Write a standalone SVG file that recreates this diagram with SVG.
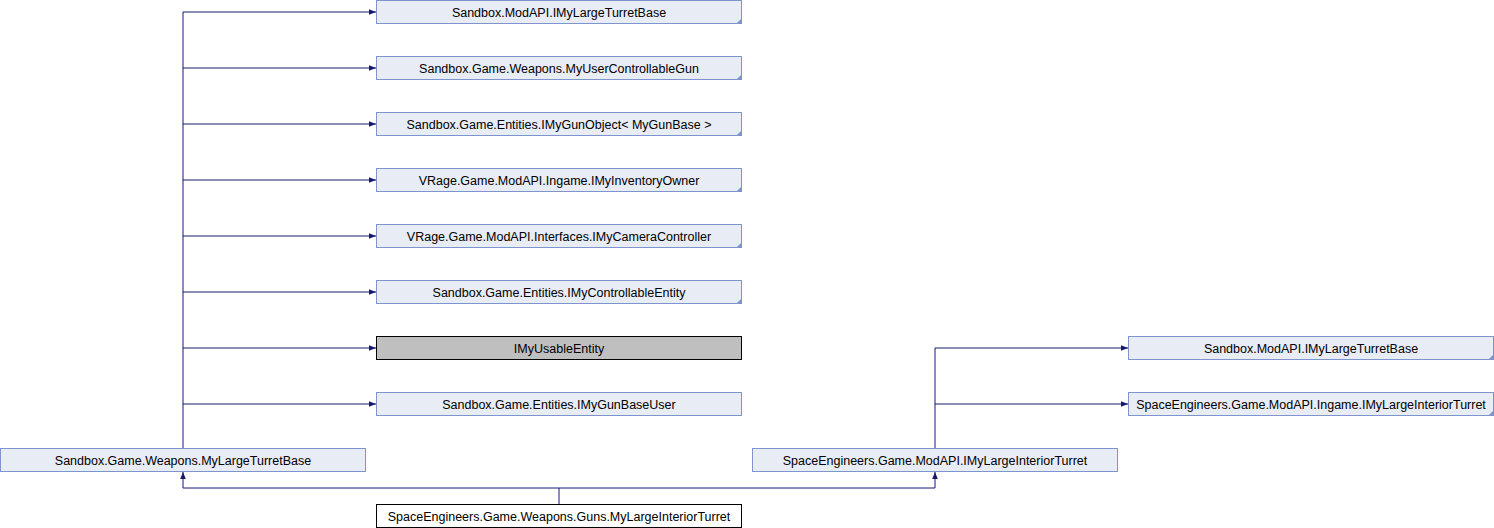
<svg xmlns="http://www.w3.org/2000/svg" width="1494" height="528" viewBox="0 0 1494 528">
<style>
.n rect{fill:#E8ECF5;stroke:#7E94CE;stroke-width:1}
.g rect{fill:#BFBFBF;stroke:#000;stroke-width:1}
.w rect{fill:#FFF;stroke:#000;stroke-width:1}
text{font-family:"Liberation Sans",Arial,sans-serif;font-size:12.5px;fill:#000;text-anchor:middle}
.c path{fill:none;stroke:#191970;stroke-width:1}
.t{fill:#7E94CE;stroke:none}
</style>
<defs>
<marker id="a" viewBox="0 0 10 10" refX="10" refY="5" markerWidth="7" markerHeight="7" markerUnits="userSpaceOnUse" orient="auto">
<path d="M0,1 L10,5 L0,9 Z" fill="#191970"/>
</marker>
</defs>
<rect width="1494" height="528" fill="#FFF"/>
<g class="c">
<path d="M183,448 V12 H376" marker-end="url(#a)"/>
<path d="M183,68 H376" marker-end="url(#a)"/>
<path d="M183,124 H376" marker-end="url(#a)"/>
<path d="M183,180 H376" marker-end="url(#a)"/>
<path d="M183,236 H376" marker-end="url(#a)"/>
<path d="M183,292 H376" marker-end="url(#a)"/>
<path d="M183,348 H376" marker-end="url(#a)"/>
<path d="M183,404 H376" marker-end="url(#a)"/>
<path d="M935,448 V348 H1128" marker-end="url(#a)"/>
<path d="M935,404 H1128" marker-end="url(#a)"/>
<path d="M559,504 V488 H183 V472" marker-end="url(#a)"/>
<path d="M559,488 H935 V472" marker-end="url(#a)"/>
</g>
<g id="n1" class="n"><rect x="376.5" y="0.5" width="365" height="23"/><path class="t" d="M742,18 V24 H736 Z"/><text x="559" y="16.5">Sandbox.ModAPI.IMyLargeTurretBase</text></g>
<g id="n2" class="n"><rect x="376.5" y="56.5" width="365" height="23"/><path class="t" d="M742,74 V80 H736 Z"/><text x="559" y="72.5">Sandbox.Game.Weapons.MyUserControllableGun</text></g>
<g id="n3" class="n"><rect x="376.5" y="112.5" width="365" height="23"/><path class="t" d="M742,130 V136 H736 Z"/><text x="559" y="128.5" xml:space="preserve">Sandbox.Game.Entities.IMyGunObject&lt; MyGunBase &gt;</text></g>
<g id="n4" class="n"><rect x="376.5" y="168.5" width="365" height="23"/><path class="t" d="M742,186 V192 H736 Z"/><text x="559" y="184.5">VRage.Game.ModAPI.Ingame.IMyInventoryOwner</text></g>
<g id="n5" class="n"><rect x="376.5" y="224.5" width="365" height="23"/><path class="t" d="M742,242 V248 H736 Z"/><text x="559" y="240.5">VRage.Game.ModAPI.Interfaces.IMyCameraController</text></g>
<g id="n6" class="n"><rect x="376.5" y="280.5" width="365" height="23"/><path class="t" d="M742,298 V304 H736 Z"/><text x="559" y="296.5">Sandbox.Game.Entities.IMyControllableEntity</text></g>
<g id="n7" class="g"><rect x="376.5" y="336.5" width="365" height="23"/><text x="559" y="352.5">IMyUsableEntity</text></g>
<g id="n8" class="n"><rect x="376.5" y="392.5" width="365" height="23"/><text x="559" y="408.5">Sandbox.Game.Entities.IMyGunBaseUser</text></g>
<g id="n9" class="n"><rect x="0.5" y="448.5" width="365" height="23"/><text x="183" y="464.5">Sandbox.Game.Weapons.MyLargeTurretBase</text></g>
<g id="n10" class="n"><rect x="752.5" y="448.5" width="365" height="23"/><text x="935" y="464.5">SpaceEngineers.Game.ModAPI.IMyLargeInteriorTurret</text></g>
<g id="n11" class="n"><rect x="1128.5" y="336.5" width="365" height="23"/><path class="t" d="M1494,354 V360 H1488 Z"/><text x="1311" y="352.5">Sandbox.ModAPI.IMyLargeTurretBase</text></g>
<g id="n12" class="n"><rect x="1128.5" y="392.5" width="365" height="23"/><path class="t" d="M1494,410 V416 H1488 Z"/><text x="1311" y="408.5">SpaceEngineers.Game.ModAPI.Ingame.IMyLargeInteriorTurret</text></g>
<g id="n13" class="w"><rect x="376.5" y="504.5" width="365" height="23"/><text x="559" y="520.5">SpaceEngineers.Game.Weapons.Guns.MyLargeInteriorTurret</text></g>
</svg>
